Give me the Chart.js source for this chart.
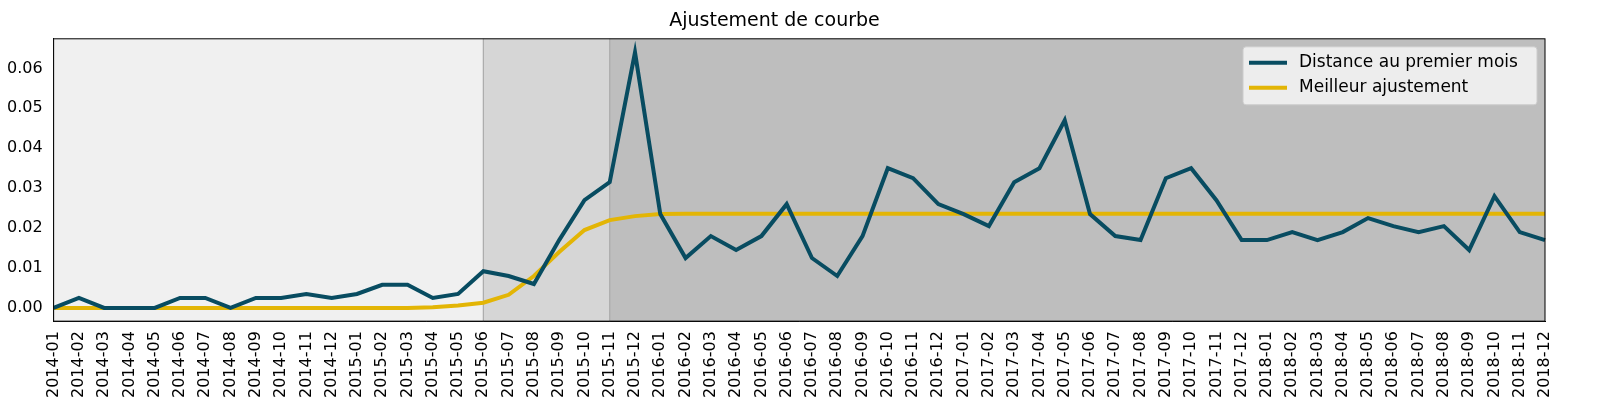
<!DOCTYPE html>
<html><head><script src="https://cdn.jsdelivr.net/npm/chart.js@4"></script>
<style>body{margin:0;background:#fff}#w{width:1600px;height:400px}</style></head>
<body><div id="w"><canvas id="c"></canvas></div>
<script>
const months=[];
for(let y=2014;y<=2018;y++)for(let m=1;m<=12;m++)months.push(y+'-'+String(m).padStart(2,'0'));
const distance=[0,0.0025,0,0,0,0.0025,0.0025,0,0.0025,0.0025,0.0035,0.0025,
0.0035,0.0058,0.0058,0.0025,0.0035,0.0092,0.008,0.006,0.017,0.027,0.0315,0.064,
0.0235,0.0125,0.018,0.0145,0.018,0.026,0.0125,0.008,0.018,0.035,0.0325,0.026,
0.0235,0.0205,0.0315,0.035,0.047,0.0235,0.018,0.017,0.0325,0.035,0.027,0.017,
0.017,0.019,0.017,0.019,0.0225,0.0205,0.019,0.0205,0.0145,0.028,0.019,0.017];
const fit=[0,0,0,0,0,0,0,0,0,0,0,0,
0,0,0,0.0002,0.0006,0.0013,0.0033,0.008,0.014,0.0195,0.022,0.023,
0.0235,0.0236,0.0236,0.0236,0.0236,0.0236,0.0236,0.0236,0.0236,0.0236,0.0236,0.0236,
0.0236,0.0236,0.0236,0.0236,0.0236,0.0236,0.0236,0.0236,0.0236,0.0236,0.0236,0.0236,
0.0236,0.0236,0.0236,0.0236,0.0236,0.0236,0.0236,0.0236,0.0236,0.0236,0.0236,0.0236];
const phases=[[0,17,'#f0f0f0'],[17,22,'#d6d6d6'],[22,59,'#bebebe']];
const bg={id:'bg',beforeDatasetsDraw(ch){const{ctx,chartArea:a,scales:{x}}=ch;ctx.save();
phases.forEach(([s,e,c])=>{const x0=x.getPixelForValue(s),x1=x.getPixelForValue(e);ctx.fillStyle=c;ctx.fillRect(x0,a.top,x1-x0,a.bottom-a.top);});
ctx.strokeStyle='#aaaaaa';ctx.lineWidth=1.2;[17,22].forEach(i=>{const px=x.getPixelForValue(i);ctx.beginPath();ctx.moveTo(px,a.top);ctx.lineTo(px,a.bottom);ctx.stroke();});
ctx.restore();},
afterDraw(ch){const{ctx,chartArea:a}=ch;ctx.save();ctx.strokeStyle='#000';ctx.lineWidth=1;ctx.strokeRect(a.left,a.top,a.right-a.left,a.bottom-a.top);
const lx=a.right-302,ly=a.top+8;ctx.fillStyle='rgba(242,242,242,0.9)';ctx.strokeStyle='#cccccc';ctx.beginPath();ctx.roundRect(lx,ly,294,58,3);ctx.fill();ctx.stroke();
ctx.font='17px "DejaVu Sans"';ctx.textBaseline='middle';
[['Distance au premier mois','#084c61'],['Meilleur ajustement','#e3b505']].forEach(([t,c],i)=>{const yy=ly+16+i*25;ctx.strokeStyle=c;ctx.lineWidth=4;ctx.beginPath();ctx.moveTo(lx+6,yy);ctx.lineTo(lx+44,yy);ctx.stroke();ctx.fillStyle='#000';ctx.fillText(t,lx+56,yy);});
ctx.restore();}};
new Chart(document.getElementById('c'),{type:'line',data:{labels:months,datasets:[
{data:distance,borderColor:'#084c61',borderWidth:4,pointRadius:0,tension:0},
{data:fit,borderColor:'#e3b505',borderWidth:4,pointRadius:0,tension:0}]},
options:{responsive:true,maintainAspectRatio:false,animation:false,
layout:{padding:{left:4,right:55,top:0,bottom:0}},
plugins:{legend:{display:false},title:{display:true,text:'Ajustement de courbe',color:'#000',font:{family:'DejaVu Sans',size:19,weight:'normal'},padding:{top:10,bottom:6}}},
scales:{x:{offset:false,grid:{display:false},border:{color:'#000'},ticks:{color:'#000',font:{family:'DejaVu Sans',size:16},maxRotation:90,minRotation:90,autoSkip:false,padding:2}},
y:{min:-0.0033,max:0.0674,grid:{display:false},border:{color:'#000'},afterBuildTicks(s){s.ticks=[0,0.01,0.02,0.03,0.04,0.05,0.06].map(v=>({value:v}));},
ticks:{color:'#000',font:{family:'DejaVu Sans',size:16},callback:v=>v.toFixed(2)}}}},plugins:[bg]});
</script></body></html>
